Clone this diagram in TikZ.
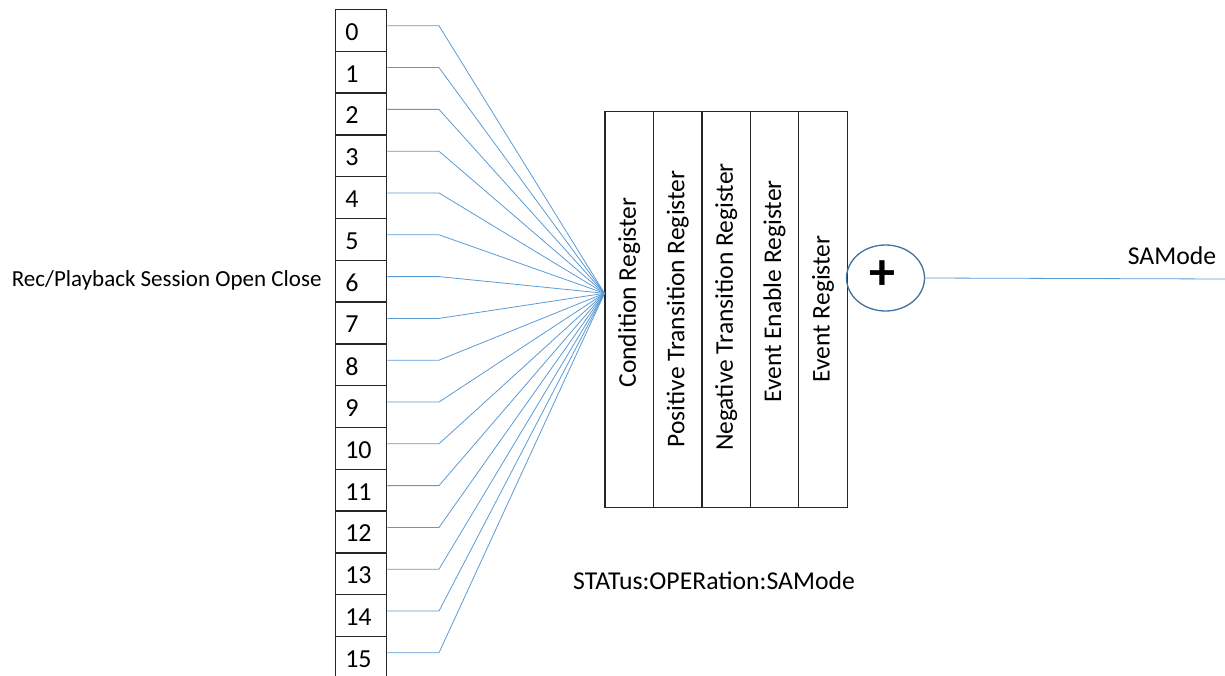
\documentclass[tikz,border=0pt]{standalone}
\usepackage{fontspec}
\setmainfont{Carlito}
\usetikzlibrary{shapes.geometric,calc}
\definecolor{wireblue}{HTML}{5B9BD5}
\definecolor{ringblue}{HTML}{41719C}
\definecolor{boxgray}{HTML}{262626}
\begin{document}
\begin{tikzpicture}[x=1pt,y=-1pt,
  bitbox/.style={draw=boxgray,line width=1.3pt,rectangle,minimum width=51.5pt,minimum height=41.8pt,inner sep=0pt},
  bitlabel/.style={anchor=west,inner sep=0pt,font=\fontsize{26}{30}\selectfont},
  regbox/.style={draw=boxgray,line width=1.3pt,rectangle,minimum width=48.45pt,minimum height=395.6pt,inner sep=0pt},
  reglabel/.style={rotate=90,inner sep=0pt,font=\fontsize{25.5}{30}\selectfont},
  wire/.style={draw=wireblue,line width=0.8pt},
  txt/.style={inner sep=0pt,font=\fontsize{25.7}{30}\selectfont}]
\useasboundingbox (0,0) rectangle (1225,676);
% bit column
\foreach \i in {0,...,15}{
  \node[bitbox] (b\i) at (361,{9.5+41.8*\i+20.9}) {};
  \node[bitlabel] (t\i) at ([xshift=10.5pt,yshift=-1.5pt]b\i.west) {\i};
}
% register block
\node[regbox] (r0) at ({605+48.45*0.5},309.5) {};
\node[regbox] (r1) at ({605+48.45*1.5},309.5) {};
\node[regbox] (r2) at ({605+48.45*2.5},309.5) {};
\node[regbox] (r3) at ({605+48.45*3.5},309.5) {};
\node[regbox] (r4) at ({605+48.45*4.5},309.5) {};
\node[reglabel] (l0) at ({605+48.45*0.5},292.5) {Condition Register};
\node[reglabel] (l1) at ({605+48.45*1.5},309) {Positive Transition Register};
\node[reglabel] (l2) at ({605+48.45*2.5},307) {Negative Transition Register};
\node[reglabel] (l3) at ({605+48.45*3.5},291.5) {Event Enable Register};
\node[reglabel] (l4) at ({605+48.45*4.5},309) {Event Register};
\coordinate (hub) at (604.5,293.3);
% fan-in wires
\foreach \i in {0,...,15}{
  \draw[wire] ([yshift=4.6pt]b\i.east) -- ++(51.6,0) -- (hub);
}
% summing node
\node[ellipse,draw=ringblue,line width=1.3pt,minimum width=78pt,minimum height=66pt,inner sep=0pt] (sum) at (885.5,278) {};
\node[inner sep=0pt,font=\fontsize{52}{56}\selectfont\bfseries] (plus) at (882,275.5) {+};
\coordinate (out) at (1225,279);
\draw[wire] (sum.east) -- (out);
% texts
\node[txt] (samode) at (1172,256) {SAMode};
\node[txt,font=\fontsize{23}{28}\selectfont] (src) at (166.7,280) {Rec/Playback Session Open Close};
\node[txt] (name) at (714,581) {STATus:OPERation:SAMode};
\end{tikzpicture}
\end{document}
